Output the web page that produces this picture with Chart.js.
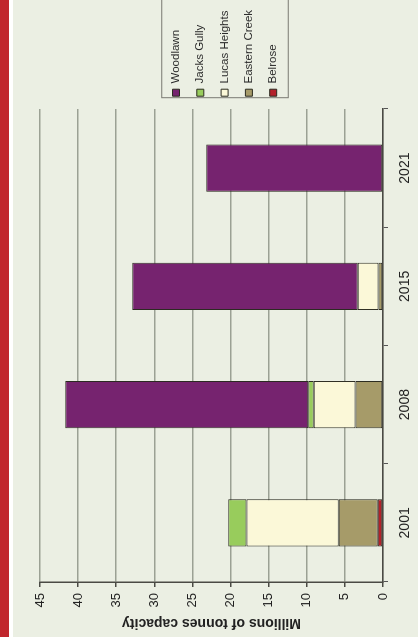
<!DOCTYPE html>
<html>
<head>
<meta charset="utf-8">
<script src="https://cdn.jsdelivr.net/npm/chart.js@4/dist/chart.umd.min.js"></script>
<style>
  html, body { margin: 0; padding: 0; background: #fff; width: 418px; height: 637px; overflow: hidden; }
  #strip { position: absolute; left: 0; top: 0; width: 9px; height: 637px; background: #c1272d; }
  #panel { position: absolute; left: 13px; top: 0; width: 405px; height: 637px; background: #ebefe3; }
  /* chart is drawn upright, then turned a quarter to the left */
  #stage { position: absolute; left: 0; top: 0; width: 637px; height: 405px;
           transform-origin: 0 0; transform: translate(13px, 637px) rotate(-90deg); }
</style>
</head>
<body>
<div id="strip"></div>
<div id="panel"></div>
<div id="stage"><canvas id="landfill-chart" width="637" height="405"></canvas></div>
<script>
//categories
const YEARS = ['2001', '2008', '2015', '2021'];

//series values, bottom of stack first
const BELROSE = [0.7, null, null, null];
const EASTERN_CREEK = [5.1, 3.6, 0.6, null];
const LUCAS_HEIGHTS = [12.1, 5.5, 2.7, null];
const JACKS_GULLY = [2.4, 0.7, null, null];
const WOODLAWN = [null, 31.9, 29.6, 23.2];

const SERIES_LABELS = ['Belrose', 'Eastern Creek', 'Lucas Heights', 'Jacks Gully', 'Woodlawn'];
const SERIES_DATA = [BELROSE, EASTERN_CREEK, LUCAS_HEIGHTS, JACKS_GULLY, WOODLAWN];
const COLORS = ['#b3212b', '#a69b69', '#fbf8d8', '#98cc5c', '#76236f'];

const AXIS_TITLE = 'Millions of tonnes capacity';
const VALUE_MIN = 0;
const VALUE_MAX = 45;
const VALUE_STEP = 5;

const PAD_TOP = 27;
const PAD_BOTTOM = 8.8;

Chart.defaults.font.family = '"Liberation Sans", Arial, sans-serif';
Chart.defaults.color = '#222';

// thin frame round the legend items
const legendFrame = {
    id: 'legendFrame',
    afterDraw(chart) {
        const boxes = chart.legend && chart.legend.legendHitBoxes;
        if (!boxes || !boxes.length) return;
        const top = Math.min(...boxes.map(b => b.top));
        const bottom = Math.max(...boxes.map(b => b.top + b.height));
        const left = Math.min(...boxes.map(b => b.left));
        const ctx = chart.ctx;
        ctx.save();
        ctx.strokeStyle = '#7a7a72';
        ctx.lineWidth = 1;
        ctx.strokeRect(left - 1.5, top - 8.5, chart.width + 10 - left, bottom - top + 17.8);
        ctx.restore();
    }
};

function initDatasets(labels, values, colors) {
    return labels.map((label, i) => ({
        label: label,
        data: values[i],
        backgroundColor: colors[i],
        borderColor: '#2b2b20',
        borderWidth: 1,
        borderSkipped: false,
        categoryPercentage: 1,
        barPercentage: 0.4,
    }));
}

new Chart(document.getElementById('landfill-chart'), {
    type: 'bar',
    data: {
        labels: YEARS,
        datasets: initDatasets(SERIES_LABELS, SERIES_DATA, COLORS)
    },
    options: {
        responsive: false,
        animation: false,
        devicePixelRatio: 1,
        layout: { padding: { top: PAD_TOP, bottom: PAD_BOTTOM, left: 0, right: 0 } },
        plugins: {
            tooltip: { enabled: false },
            legend: {
                position: 'right',
                reverse: true,
                maxWidth: 109,
                labels: {
                    boxWidth: 7,
                    boxHeight: 7,
                    padding: 12.8,
                    color: '#2a2a2a',
                    font: { size: 11.5 }
                }
            }
        },
        scales: {
            x: {
                stacked: true,
                grid: { offset: true, drawOnChartArea: false, drawTicks: true, tickLength: 5, tickColor: '#555', lineWidth: 1 },
                border: { display: true, color: '#4a4a44', width: 1.5 },
                ticks: { font: { size: 14 }, padding: 9, color: '#222' },
                afterFit(scale) { scale.height = 35 - PAD_BOTTOM; }
            },
            y: {
                stacked: true,
                min: VALUE_MIN,
                max: VALUE_MAX,
                ticks: { stepSize: VALUE_STEP, font: { size: 13 }, padding: 6, color: '#222' },
                grid: { color: '#9ba194', lineWidth: 1.5, tickColor: '#4a4a44', tickLength: 5 },
                border: { display: true, color: '#4a4a44', width: 1.5 },
                title: {
                    display: true,
                    text: AXIS_TITLE,
                    color: '#222',
                    font: { size: 14, weight: 'bold' },
                    padding: { top: 6, bottom: 0 }
                },
                afterFit(scale) { scale.width = 55; }
            }
        }
    },
    plugins: [legendFrame]
});
</script>
</body>
</html>
